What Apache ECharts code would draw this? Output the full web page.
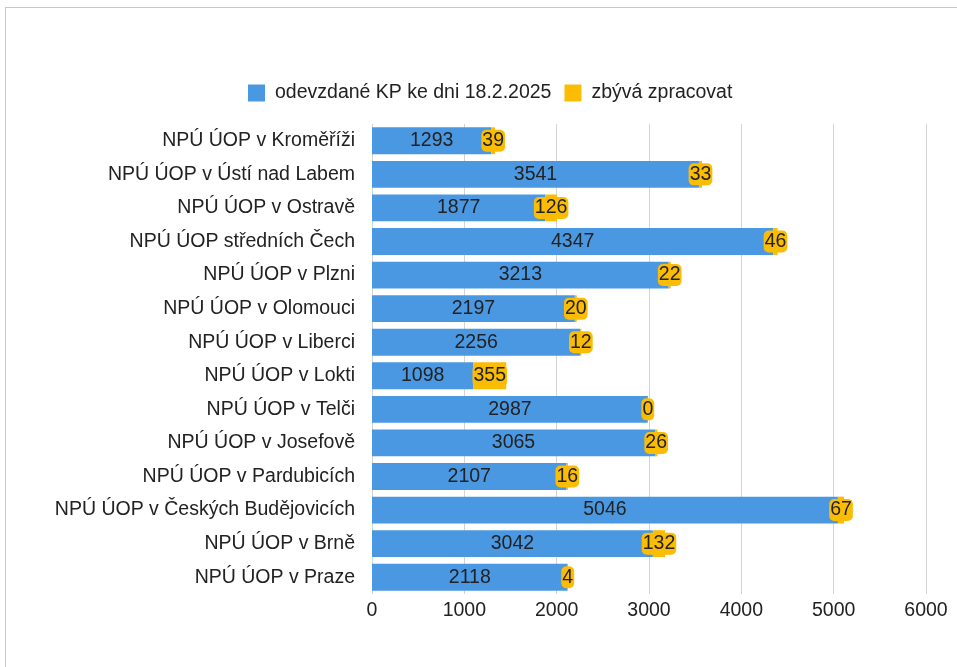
<!DOCTYPE html>
<html>
<head>
<meta charset="utf-8">
<script src="https://cdn.jsdelivr.net/npm/echarts@6/dist/echarts.min.js"></script>
<style>
  html, body { margin: 0; padding: 0; background: #fff; }
  #frame { position: absolute; left: 5px; top: 7px; width: 960px; height: 670px; border: 1px solid #c8c8c8; box-sizing: border-box; }
  #main { position: absolute; left: 0; top: 0; width: 957px; height: 667px; }
</style>
</head>
<body>
<div id="frame"></div>
<div id="main"></div>
<script>
  // kategorie shora dolu
  var offices = [
    "NPÚ ÚOP v Kroměříži",
    "NPÚ ÚOP v Ústí nad Labem",
    "NPÚ ÚOP v Ostravě",
    "NPÚ ÚOP středních Čech",
    "NPÚ ÚOP v Plzni",
    "NPÚ ÚOP v Olomouci",
    "NPÚ ÚOP v Liberci",
    "NPÚ ÚOP v Lokti",
    "NPÚ ÚOP v Telči",
    "NPÚ ÚOP v Josefově",
    "NPÚ ÚOP v Pardubicích",
    "NPÚ ÚOP v Českých Budějovicích",
    "NPÚ ÚOP v Brně",
    "NPÚ ÚOP v Praze"
  ];
  var submitted = [1293, 3541, 1877, 4347, 3213, 2197, 2256, 1098, 2987, 3065, 2107, 5046, 3042, 2118];
  var remaining = [39, 33, 126, 46, 22, 20, 12, 355, 0, 26, 16, 67, 132, 4];
  var seriesNames = ["odevzdané KP ke dni 18.2.2025", "zbývá zpracovat"];

  var blue = "#4a98e2";
  var yellow = "#fbbc04";
  var font = "Liberation Sans, Arial, sans-serif";
  var fs = 19.5;

  var chartDom = document.getElementById("main");
  var myChart = echarts.init(chartDom);

  var option = {
    animation: false,
    textStyle: { fontFamily: font },
    legend: {
      data: seriesNames,
      icon: "rect",
      top: 78,
      left: 243,
      itemWidth: 17,
      itemHeight: 17,
      itemGap: 13,
      textStyle: { fontSize: fs, color: "#222", fontFamily: font, padding: [0, 0, 0, 5] }
    },
    grid: {
      left: 372,
      right: 31,
      top: 124,
      bottom: 73,
      containLabel: false
    },
    xAxis: {
      type: "value",
      min: 0,
      max: 6000,
      interval: 1000,
      axisLine: { show: false },
      axisTick: { show: false },
      axisLabel: {
        fontSize: fs, color: "#222", margin: 7, fontFamily: font,
        formatter: function (v) { return String(v); }
      },
      splitLine: { show: true, lineStyle: { color: "#d3d3d3", width: 1 } }
    },
    yAxis: {
      type: "category",
      inverse: true,
      data: offices,
      axisLine: { show: false },
      axisTick: { show: false },
      axisLabel: { fontSize: fs, color: "#222", margin: 17, fontFamily: font }
    },
    series: [
      {
        name: seriesNames[0],
        type: "bar",
        stack: "total",
        barCategoryGap: "20%",
        itemStyle: { color: blue },
        label: {
          show: true,
          position: "inside",
          fontSize: fs,
          color: "#222",
          fontFamily: font
        },
        data: submitted
      },
      {
        name: seriesNames[1],
        type: "bar",
        stack: "total",
        itemStyle: { color: yellow },
        label: {
          show: true,
          position: "inside",
          fontSize: fs,
          color: "#222",
          fontFamily: font,
          backgroundColor: yellow,
          borderRadius: 5,
          padding: [1, 1],
          textBorderColor: yellow,
          textBorderWidth: 2
        },
        data: remaining
      }
    ]
  };

  myChart.setOption(option);
  window.onresize = function () {
    myChart.resize();
  };
</script>
</body>
</html>
